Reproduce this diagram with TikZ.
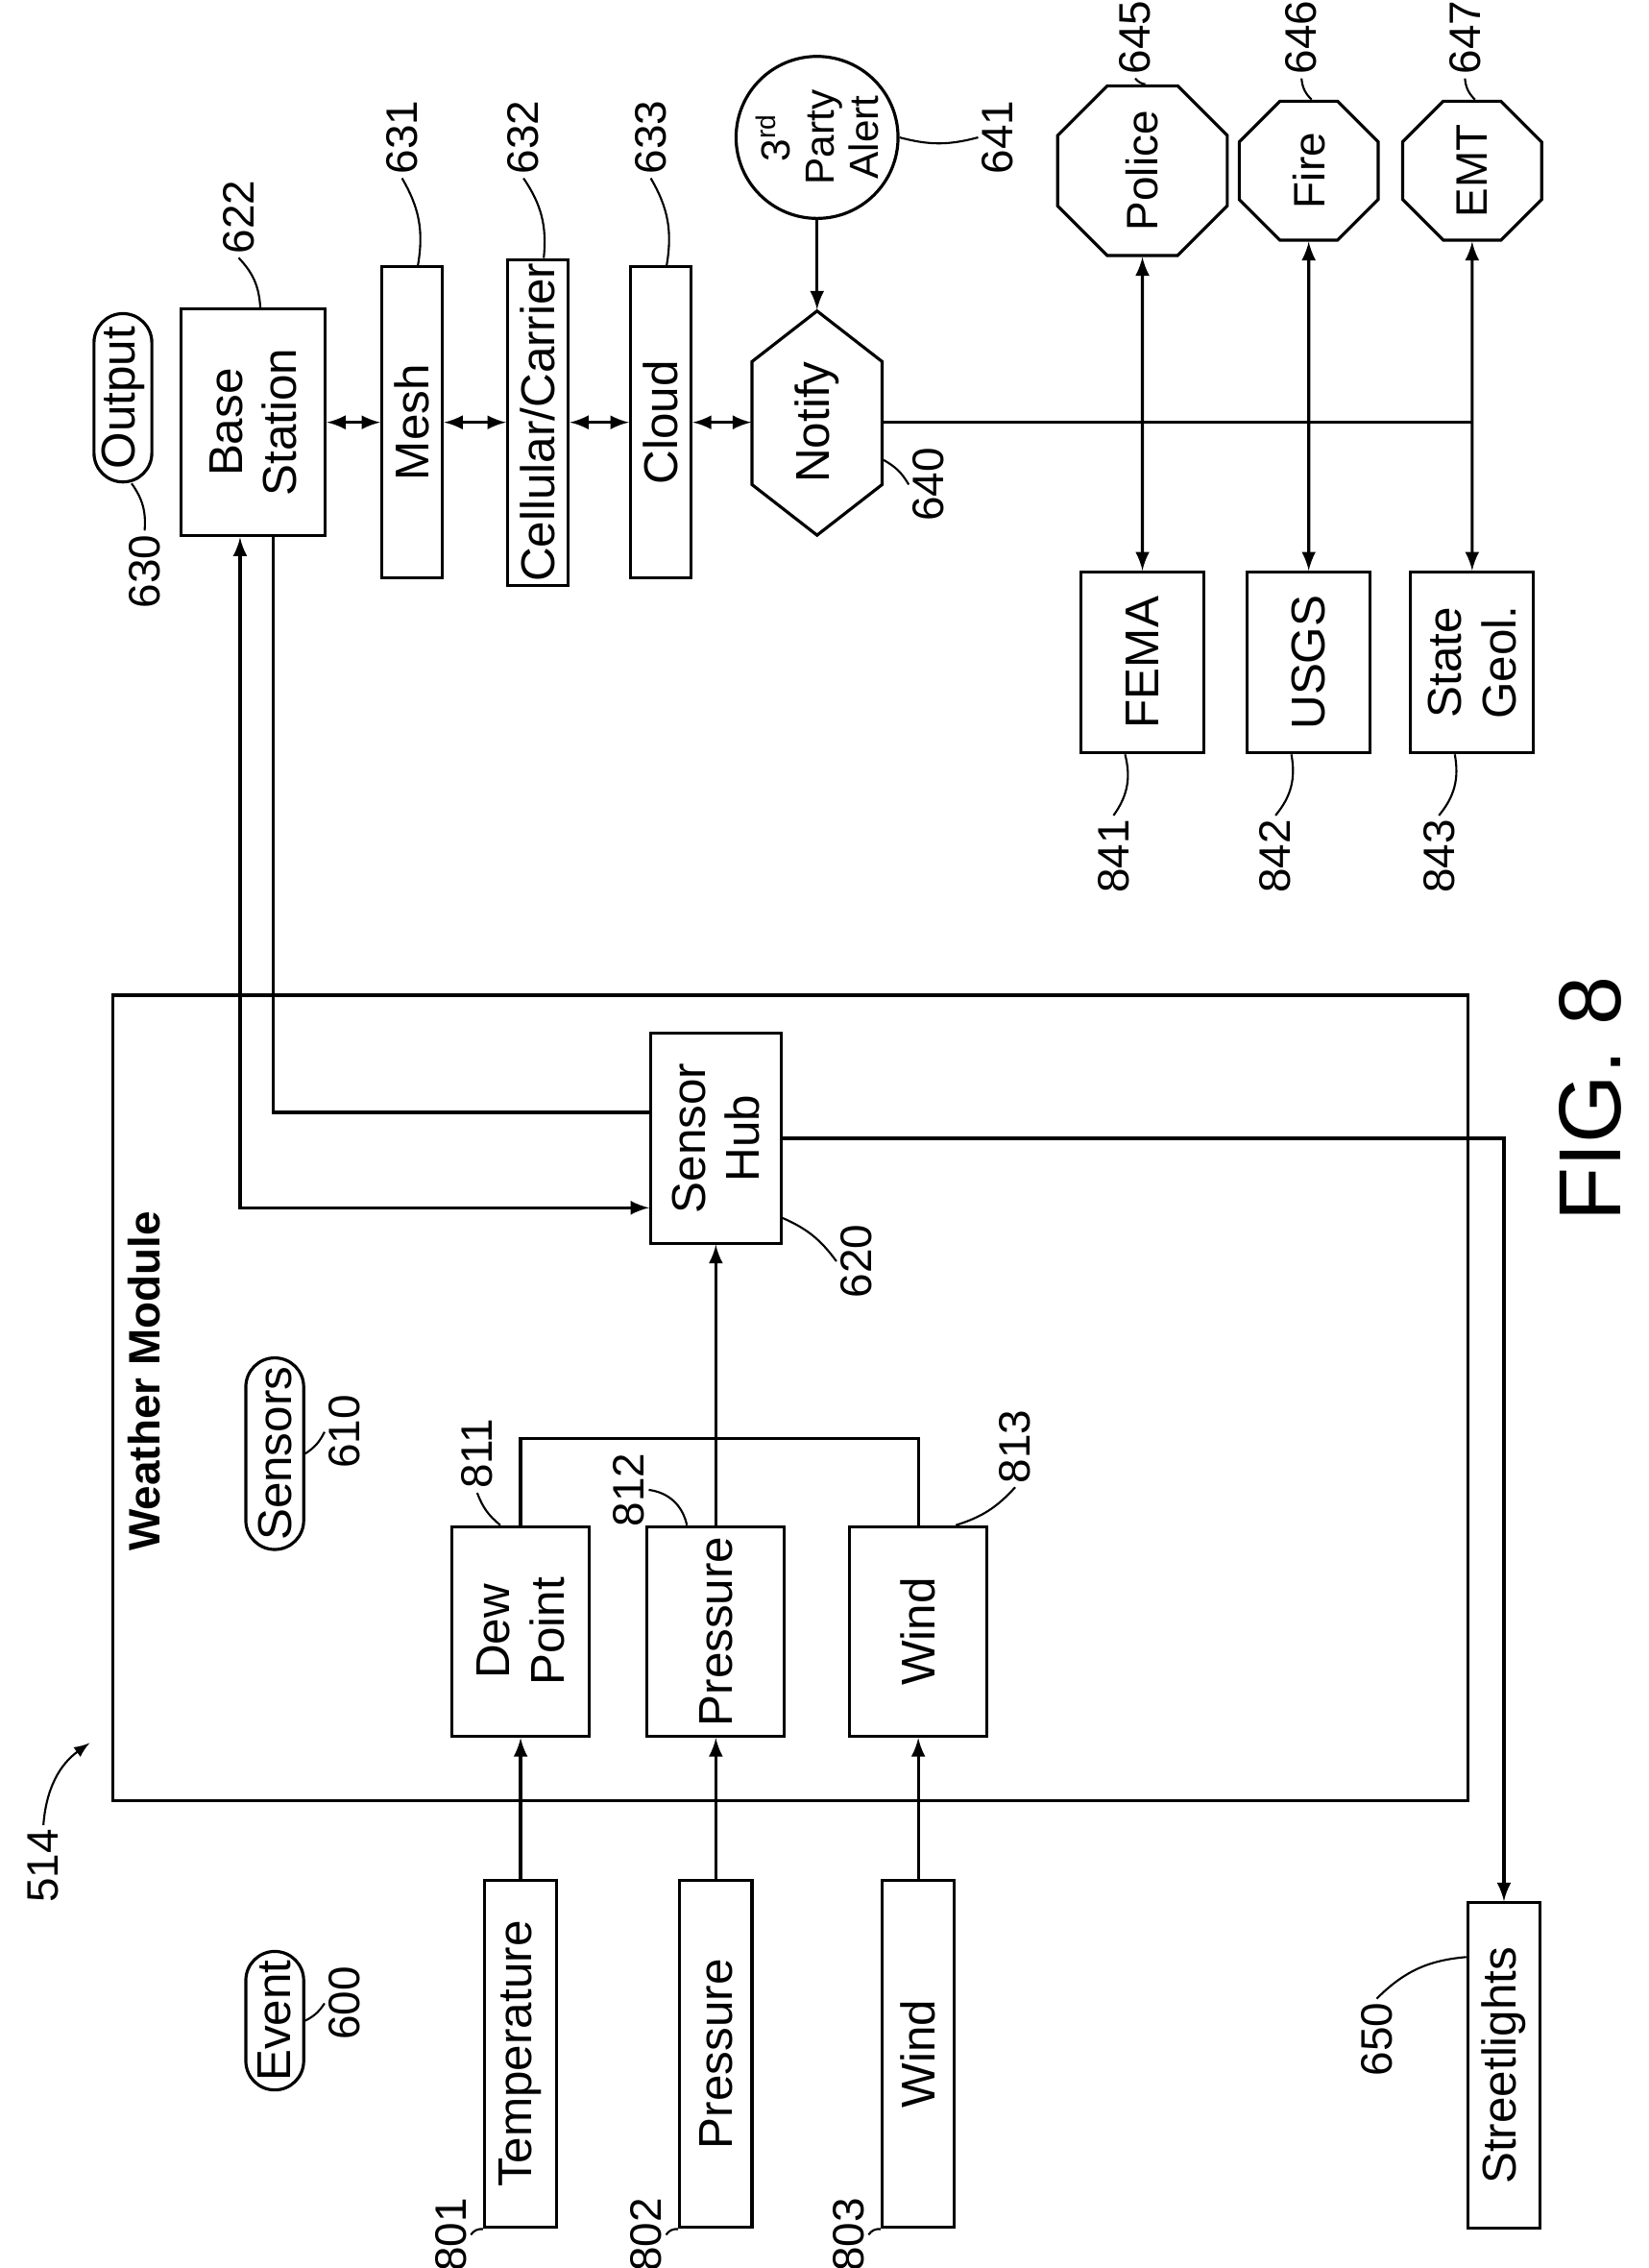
\documentclass[tikz,border=0pt]{standalone}
\usepackage{fontspec}
\setmainfont{Liberation Sans}
\usetikzlibrary{calc, shapes.geometric, shapes.misc}

\tikzset{
  sz/.style 2 args={minimum width=#1*0.15mm, minimum height=#2*0.15mm},
  blk/.style={draw, line width=0.9pt, rotate=90, align=center, inner sep=1pt},
  pill/.style={blk, rounded rectangle},
  num/.style={rotate=90, font=\fontsize{13}{15}\selectfont, inner sep=1pt},
  lead/.style={line width=0.6pt},
  link/.style={line width=0.9pt, >=latex},
}

\begin{document}
\begin{tikzpicture}[x=0.15mm, y=-0.15mm, font=\fontsize{14}{16}\selectfont]
    \useasboundingbox (0,0) rectangle (1140,1568);
    % Frame
    \draw[line width=0.9pt] (78,688) rectangle (1015,1245);
    \node[rotate=90, font=\bfseries\fontsize{13}{15}\selectfont] (wm) at (100,955) {Weather Module};
    \node[num] (l514) at (30,1290) {514};
    \draw[lead, ->, >=latex] (l514.east) to[bend left=25] (62,1205);
    % Pills
    \node[pill, sz={85}{40}] (output) at (85,275) {Output};
    \node[pill, sz={85}{40}] (event) at (190,1397) {Event};
    \node[pill, sz={85}{40}] (sensors) at (190,1005) {Sensors};
    % Inputs
    \node[blk, sz={240}{50}] (temp) at (360,1420) {Temperature};
    \node[blk, sz={240}{50}] (prsin) at (495,1420) {Pressure};
    \node[blk, sz={240}{50}] (windin) at (635,1420) {Wind};
    % Sensors
    \node[blk, sz={145}{95}] (dew) at (360,1128) {Dew\\Point};
    \node[blk, sz={145}{95}] (prs) at (495,1128) {Pressure};
    \node[blk, sz={145}{95}] (wnd) at (635,1128) {Wind};
    \node[blk, sz={145}{90}] (hub) at (495,787) {Sensor\\Hub};
    \node[blk, sz={225}{50}] (street) at (1040,1428) {Streetlights};
    % Communication
    \node[blk, sz={157}{100}] (base) at (175,292) {Base\\Station};
    \node[blk, sz={215}{42}] (mesh) at (285,292) {Mesh};
    \node[blk, sz={215}{42}] (cell) at (372,292) {Cellular/Carrier};
    \node[blk, sz={215}{42}] (cloud) at (457,292) {Cloud};
    \node[rotate=90, sz={155}{90}] (notify) at (565,292) {Notify};
    \draw[line width=0.9pt] (565,215) -- (610,250) -- (610,335) -- (565,370) -- (520,335) -- (520,250) -- cycle;
    \node[blk, circle, minimum size=112*0.15mm, inner sep=0pt, font=\fontsize{12}{13}\selectfont] (alert) at (565,95) {3\textsuperscript{rd}\\Party\\Alert};
    % Responders
    \node[blk, regular polygon, regular polygon sides=8, minimum size=104*0.15mm, inner sep=0pt, font=\fontsize{13}{15}\selectfont] (police) at (790,118) {Police};
    \node[blk, regular polygon, regular polygon sides=8, minimum size=104*0.15mm, inner sep=0pt, font=\fontsize{13}{15}\selectfont] (fire) at (905,118) {Fire};
    \node[blk, regular polygon, regular polygon sides=8, minimum size=104*0.15mm, inner sep=0pt, font=\fontsize{13}{15}\selectfont] (emt) at (1018,118) {EMT};
    \node[blk, sz={125}{85}] (fema) at (790,458) {FEMA};
    \node[blk, sz={125}{85}] (usgs) at (905,458) {USGS};
    \node[blk, sz={125}{85}] (sgeol) at (1018,458) {State\\Geol.};
    % Links
    \draw[link, ->] (temp.east) -- (dew.west);
    \draw[link, ->] (prsin.east) -- (prs.west);
    \draw[link, ->] (windin.east) -- (wnd.west);
    \draw[link] (dew.east) -- ++(0,-60) -| (wnd.east);
    \draw[link, ->] (prs.east) -- (hub.west);
    \draw[link, <->] ($(base.west)+(-9,0)$) |- ($(hub.north)+(0,48)$);
    \draw[link] ($(base.west)+(14,0)$) |- ($(hub.north)+(0,-18)$);
    \draw[link, ->] (hub.south) -| (street.east);
    \draw[link, <->] (base.south) -- (mesh.north);
    \draw[link, <->] (mesh.south) -- (cell.north);
    \draw[link, <->] (cell.south) -- (cloud.north);
    \draw[link, <->] (cloud.south) -- (notify.north);
    \draw[link, ->] (alert) -- (notify.east);
    \draw[link] (notify.south) -- (notify.south -| emt);
    \draw[link, <->] (police) -- (fema);
    \draw[link, <->] (fire) -- (usgs);
    \draw[link, <->] (emt) -- (sgeol);
    % Reference numerals
    \node[num] (l630) at (100,395) {630};
    \draw[lead] (l630.east) to[bend right=20] ($(output.west)+(6,0)$);
    \node[num] (l622) at (165,150) {622};
    \draw[lead] (l622.west) to[bend left=20] ($(base.east)+(5,0)$);
    \node[num] (l631) at (278,95) {631};
    \draw[lead] (l631.west) to[bend left=20] ($(mesh.east)+(4,0)$);
    \node[num] (l632) at (362,95) {632};
    \draw[lead] (l632.west) to[bend left=20] ($(cell.east)+(4,0)$);
    \node[num] (l633) at (450,95) {633};
    \draw[lead] (l633.west) to[bend left=20] ($(cloud.east)+(4,0)$);
    \node[num] (l641) at (690,95) {641};
    \draw[lead] (l641.north) to[bend left=15] (alert.south);
    \node[num] (l640) at (642,335) {640};
    \draw[lead] (l640.north) to[bend right=15] (611,318);
    \node[num] (l645) at (785,26) {645};
    \draw[lead] (l645.west) to[bend right=20] ($(police.east)+(2,0)$);
    \node[num] (l646) at (900,26) {646};
    \draw[lead] (l646.west) to[bend right=20] ($(fire.east)+(2,0)$);
    \node[num] (l647) at (1013,26) {647};
    \draw[lead] (l647.west) to[bend right=20] ($(emt.east)+(2,0)$);
    \node[num] (l841) at (770,592) {841};
    \draw[lead] (l841.east) to[bend right=25] ($(fema.west)+(-12,0)$);
    \node[num] (l842) at (882,592) {842};
    \draw[lead] (l842.east) to[bend right=25] ($(usgs.west)+(-12,0)$);
    \node[num] (l843) at (995,592) {843};
    \draw[lead] (l843.east) to[bend right=25] ($(sgeol.west)+(-12,0)$);
    \node[num] (l600) at (238,1385) {600};
    \draw[lead] (l600.north) to[bend left=15] (event.south);
    \node[num] (l610) at (238,990) {610};
    \draw[lead] (l610.north) to[bend left=15] (sensors.south);
    \node[num] (l811) at (330,1005) {811};
    \draw[lead] (l811.west) to[bend right=15] ($(dew.east)+(-14,0)$);
    \node[num] (l812) at (435,1030) {812};
    \draw[lead] (l812.south) to[bend left=35] ($(prs.east)+(-20,0)$);
    \node[num] (l813) at (702,1000) {813};
    \draw[lead] (l813.west) to[bend left=15] ($(wnd.east)+(26,0)$);
    \node[num] (l620) at (592,872) {620};
    \draw[lead] (l620.north) to[bend right=15] ($(hub.south)+(0,55)$);
    \node[num] (l801) at (312,1545) {801};
    \draw[lead] (l801.south) to[bend left=30] (temp.north west);
    \node[num] (l802) at (447,1545) {802};
    \draw[lead] (l802.south) to[bend left=30] (prsin.north west);
    \node[num] (l803) at (587,1545) {803};
    \draw[lead] (l803.south) to[bend left=30] (windin.north west);
    \node[num] (l650) at (952,1410) {650};
    \draw[lead] (l650.east) to[bend left=20] ($(street.north)+(0,-75)$);
    \node[rotate=90, font=\fontsize{26}{30}\selectfont] (fig) at (1100,760) {FIG. 8};
\end{tikzpicture}
\end{document}
